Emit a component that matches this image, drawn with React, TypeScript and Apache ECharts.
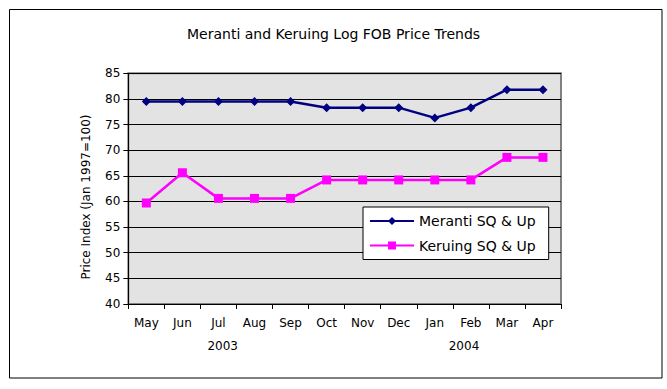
import React, { useEffect, useRef } from "react";
import * as echarts from "echarts";

const months = ["May", "Jun", "Jul", "Aug", "Sep", "Oct", "Nov", "Dec", "Jan", "Feb", "Mar", "Apr"];
const yearLabels = ["2003", "2004"];
const meranti = [79.5, 79.5, 79.5, 79.5, 79.5, 78.3, 78.3, 78.3, 76.3, 78.3, 81.8, 81.8];
const keruing = [59.7, 65.6, 60.6, 60.6, 60.6, 64.2, 64.2, 64.2, 64.2, 64.2, 68.6, 68.6];
const seriesNames = ["Meranti SQ & Up", "Keruing SQ & Up"];
const titleText = "Meranti and Keruing Log FOB Price Trends";
const yAxisName = "Price Index (Jan 1997=100)";

const FONT = "DejaVu Sans";

export default function App() {
  const ref = useRef<HTMLDivElement>(null);
  useEffect(() => {
    if (!ref.current) return;
    const chart = echarts.init(ref.current, null, { renderer: "svg" });
    chart.setOption({
      animation: false,
      backgroundColor: "#ffffff",
      textStyle: { fontFamily: FONT, color: "#000" },
      title: {
        text: titleText,
        left: 182,
        top: 22,
        textStyle: { fontFamily: FONT, fontSize: 14, fontWeight: "normal", color: "#000" },
      },
      grid: {
        left: 128.3,
        right: 106,
        top: 73.3,
        bottom: 85,
        show: true,
        backgroundColor: "#E3E3E3",
        borderColor: "#808080",
        borderWidth: 2,
        containLabel: false,
      },
      legend: {
        orient: "vertical",
        left: 363,
        top: 207,
        backgroundColor: "#ffffff",
        borderColor: "#000000",
        borderWidth: 1,
        borderRadius: 0,
        padding: [7, 13, 7, 6],
        itemWidth: 44,
        itemHeight: 10,
        itemGap: 10.5,
        textStyle: { fontFamily: FONT, fontSize: 14, color: "#000", lineHeight: 14 },
        data: seriesNames,
      },
      xAxis: {
        type: "category",
        data: months,
        boundaryGap: true,
        axisLine: { lineStyle: { color: "#000", width: 1 } },
        axisTick: { show: true, length: 5, lineStyle: { color: "#000" } },
        axisLabel: { fontFamily: FONT, fontSize: 12, color: "#000", margin: 13, interval: 0 },
        splitLine: { show: false },
      },
      yAxis: {
        type: "value",
        min: 40,
        max: 85,
        interval: 5,
        axisLine: { show: true, lineStyle: { color: "#000", width: 1 } },
        axisTick: { show: true, length: 5, lineStyle: { color: "#000" } },
        axisLabel: { fontFamily: FONT, fontSize: 12, color: "#000", margin: 8 },
        splitLine: { show: true, lineStyle: { color: "#000", width: 1 } },
      },
      graphic: [
        {
          type: "rect",
          shape: { x: 9.5, y: 9.5, width: 652.5, height: 368.5 },
          style: { fill: "none", stroke: "#000", lineWidth: 1 },
          silent: true,
          z: 100,
        },
        {
          type: "text",
          x: 86,
          y: 197,
          rotation: Math.PI / 2,
          style: { text: yAxisName, fontFamily: FONT, fontSize: 12, fill: "#000", textAlign: "center", textVerticalAlign: "middle" },
        },
        {
          type: "text",
          x: 222.7,
          y: 346,
          style: { text: yearLabels[0], fontFamily: FONT, fontSize: 12, fill: "#000", textAlign: "center", textVerticalAlign: "middle" },
        },
        {
          type: "text",
          x: 464,
          y: 346,
          style: { text: yearLabels[1], fontFamily: FONT, fontSize: 12, fill: "#000", textAlign: "center", textVerticalAlign: "middle" },
        },
      ],
      series: [
        {
          name: seriesNames[0],
          type: "line",
          data: meranti,
          symbol: "diamond",
          symbolSize: 9,
          lineStyle: { color: "#000080", width: 2.5 },
          itemStyle: { color: "#000080" },
          z: 3,
        },
        {
          name: seriesNames[1],
          type: "line",
          data: keruing,
          symbol: "rect",
          symbolSize: 9,
          lineStyle: { color: "#FF00FF", width: 2.5 },
          itemStyle: { color: "#FF00FF" },
          z: 3,
        },
      ],
    });
    return () => chart.dispose();
  }, []);
  return (
    <div
      ref={ref}
      style={{ position: "fixed", left: 0, top: 0, width: 667, height: 389 }}
    />
  );
}
